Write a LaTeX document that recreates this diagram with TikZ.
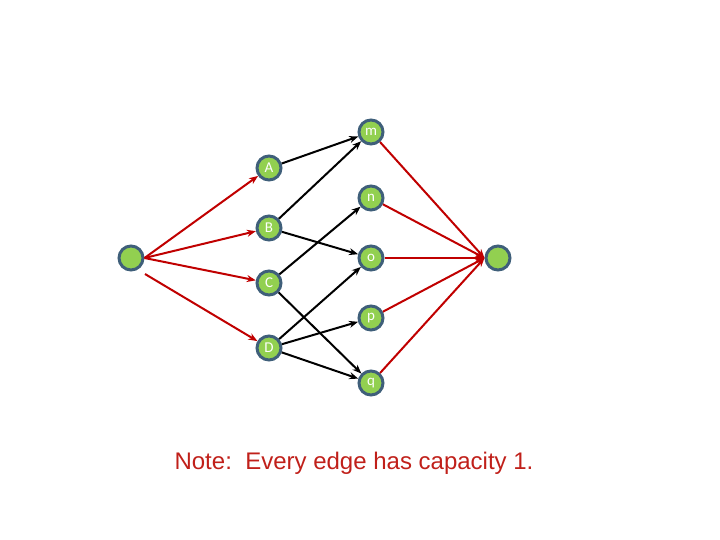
\documentclass[tikz,border=0pt]{standalone}
\usepackage{fontspec}
\setmainfont{Liberation Sans}
\newfontfamily\lbl{Carlito}
\usetikzlibrary{arrows.meta}
\definecolor{gfill}{HTML}{92D050}
\definecolor{gedge}{HTML}{3F5F7A}
\definecolor{rline}{HTML}{C00000}
\definecolor{ntext}{HTML}{C0201A}
\begin{document}
\begin{tikzpicture}[x=1pt,y=-1pt,
  vtx/.style={circle,fill=gfill,draw=gedge,line width=3pt,minimum size=24pt,inner sep=0pt,text=white,font=\lbl\fontsize{15}{17}\selectfont},
  red/.style={draw=rline,line width=2pt,-{Stealth[length=9pt,width=7pt]}},
  blk/.style={draw=black,line width=2pt,-{Stealth[length=9pt,width=7pt]}}]
\useasboundingbox (0,0) rectangle (720,540);
\node[vtx] (s) at (131,258) {};
\node[vtx] (t) at (498,258) {};
\node[vtx] (A) at (269,168) {A};
\node[vtx] (B) at (269,228) {B};
\node[vtx] (C) at (269,283) {C};
\node[vtx] (D) at (269,348) {D};
\node[vtx] (m) at (371,132) {m};
\node[vtx] (n) at (371,198) {n};
\node[vtx] (o) at (371,258) {o};
\node[vtx] (p) at (371,318) {p};
\node[vtx] (q) at (371,383) {q};
\coordinate (sd) at (145,274);
\draw[red] (s.east) -- (A);
\draw[red] (s.east) -- (B);
\draw[red] (s.east) -- (C);
\draw[red] (sd) -- (D);
\draw[blk] (A) -- (m);
\draw[blk] (B) -- (m);
\draw[blk] (B) -- (o);
\draw[blk] (C) -- (n);
\draw[blk] (C) -- (q);
\draw[blk] (D) -- (o);
\draw[blk] (D) -- (p);
\draw[blk] (D) -- (q);
\foreach \v in {m,n,o,p,q} \draw[red] (\v) -- (t.west);
\node[text=ntext,font=\fontsize{24}{28}\selectfont] (note) at (354,463) {Note:\ \ Every edge has capacity 1.};
\end{tikzpicture}
\end{document}
